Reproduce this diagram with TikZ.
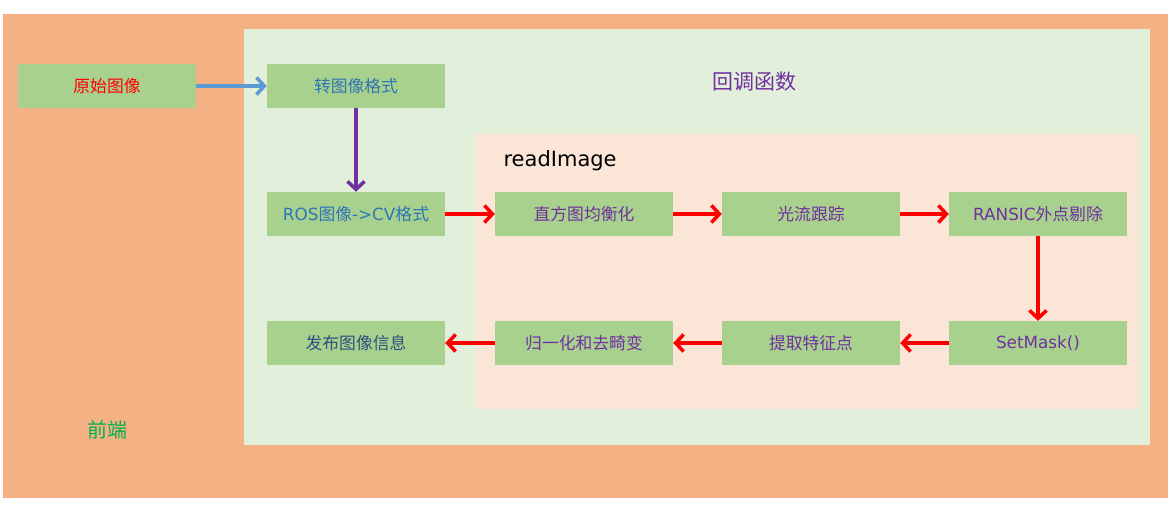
\documentclass[tikz,border=0pt]{standalone}
\usepackage{fontspec}
\setmainfont{DejaVu Sans}
\newfontfamily\cjk{Noto Sans CJK SC}
\usetikzlibrary{arrows.meta}
\definecolor{outerbg}{HTML}{F4B183}
\definecolor{cbbg}{HTML}{E2EFDA}
\definecolor{rdbg}{HTML}{FBE5D6}
\definecolor{boxg}{HTML}{A9D18E}
\definecolor{tblue}{HTML}{2E75B6}
\definecolor{tdark}{HTML}{2C5282}
\definecolor{tpurple}{HTML}{7030A0}
\definecolor{tgreen}{HTML}{00B050}
\definecolor{ablue}{HTML}{5B9BD5}
\definecolor{ared}{HTML}{FF0000}
\tikzset{
  stepbox/.style={fill=boxg, draw=none, minimum width=178pt, minimum height=44pt, inner sep=0pt, font=\fontsize{16.8}{19}\selectfont},
  arr/.style={line width=3.5pt, -{Straight Barb[length=8pt,width=17pt]}},
}
\begin{document}
\begin{tikzpicture}[x=1pt,y=-1pt]
\useasboundingbox (0,0) rectangle (1175,510);
\fill[white] (0,0) rectangle (1175,510);
\fill[outerbg] (3,14) rectangle (1168,498);
\fill[cbbg] (244,29) rectangle (1150,445);
\fill[rdbg] (476,134) rectangle (1139,409);

\node[text=tpurple, font=\fontsize{21}{24}\selectfont\cjk] (cbtitle) at (754,82) {回调函数};
\node[text=black, font=\fontsize{21}{24}\selectfont, anchor=west] (rdtitle) at (500,161) {readImage};
\node[text=tgreen, font=\fontsize{20}{24}\selectfont\cjk] (front) at (107,430) {前端};

\node[stepbox, text=ared] (raw) at (107,86) {\cjk 原始图像};
\node[stepbox, text=tblue] (conv) at (356,86) {\cjk 转图像格式};
\node[stepbox, text=tblue] (ros) at (356,214) {ROS{\cjk 图像}->CV{\cjk 格式}};
\node[stepbox, text=tdark] (pub) at (356,343) {\cjk 发布图像信息};
\node[stepbox, text=tpurple] (hist) at (584,214) {\cjk 直方图均衡化};
\node[stepbox, text=tpurple] (flow) at (811,214) {\cjk 光流跟踪};
\node[stepbox, text=tpurple] (ransac) at (1038,214) {RANSIC{\cjk 外点剔除}};
\node[stepbox, text=tpurple] (mask) at (1038,343) {SetMask()};
\node[stepbox, text=tpurple] (feat) at (811,343) {\cjk 提取特征点};
\node[stepbox, text=tpurple] (norm) at (584,343) {\cjk 归一化和去畸变};

\draw[arr, ablue] (raw) -- (conv);
\draw[arr, tpurple] (conv) -- (ros);
\draw[arr, ared] (ros) -- (hist);
\draw[arr, ared] (hist) -- (flow);
\draw[arr, ared] (flow) -- (ransac);
\draw[arr, ared] (ransac) -- (mask);
\draw[arr, ared] (mask) -- (feat);
\draw[arr, ared] (feat) -- (norm);
\draw[arr, ared] (norm) -- (pub);
\end{tikzpicture}
\end{document}
